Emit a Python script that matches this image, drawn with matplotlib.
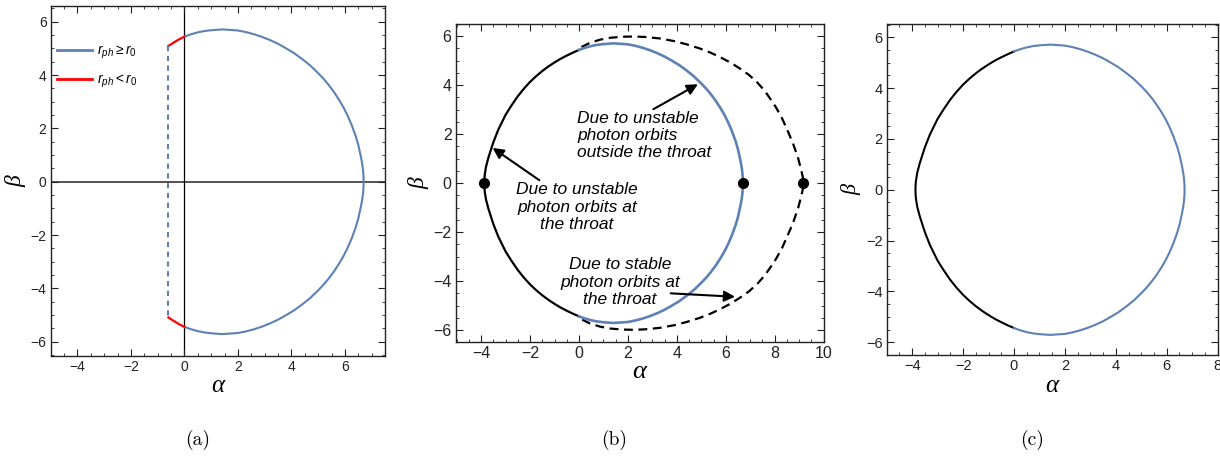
import matplotlib
matplotlib.use('Agg')
import matplotlib.pyplot as plt
from matplotlib.ticker import MultipleLocator
from matplotlib.lines import Line2D

plt.rcParams['font.family'] = ['Liberation Sans', 'DejaVu Sans']
plt.rcParams['mathtext.fontset'] = 'custom'
plt.rcParams['mathtext.it'] = 'Liberation Sans:italic'
plt.rcParams['mathtext.rm'] = 'Liberation Sans'
plt.rcParams['axes.unicode_minus'] = True

# ---------------- data (upper halves; shadows are symmetric in beta) ----------------
# shadow from unstable photon orbits outside the throat (blue)
outer_alpha = [0.0, 0.25, 0.5, 0.75, 1.0, 1.42, 2.0, 2.3, 2.6, 2.9, 3.2, 3.5, 3.8, 4.1, 4.4,
               4.7, 5.0, 5.2, 5.4, 5.6, 5.8, 5.95, 6.1, 6.25, 6.4, 6.5, 6.6, 6.65, 6.68,
               6.695, 6.70]
outer_beta = [5.44, 5.53, 5.60, 5.65, 5.68, 5.71, 5.67, 5.61, 5.53, 5.43, 5.31, 5.17, 5.00,
              4.82, 4.60, 4.36, 4.07, 3.86, 3.62, 3.35, 3.04, 2.78, 2.48, 2.13, 1.72, 1.38,
              0.92, 0.65, 0.41, 0.20, 0.0]

# shadow from unstable photon orbits at the throat (black solid)
throat_alpha = [0.0, -0.25, -0.5, -0.75, -1.0, -1.25, -1.5, -1.75, -2.0, -2.25, -2.5, -2.78,
                -3.0, -3.3, -3.5, -3.7, -3.8, -3.85, -3.865, -3.87]
throat_beta = [5.44, 5.33, 5.21, 5.08, 4.93, 4.765, 4.58, 4.37, 4.135, 3.86, 3.55, 3.14,
               2.79, 2.18, 1.67, 1.05, 0.67, 0.36, 0.18, 0.0]

# shadow from stable photon orbits at the throat (black dashed)
stable_alpha = [0.1, 0.45, 0.86, 1.3, 1.8, 2.25, 2.7, 3.3, 3.9, 4.4, 4.94, 5.4, 5.8, 6.2,
                6.58, 6.95, 7.3, 7.6, 7.81, 8.05, 8.3, 8.55, 8.75, 8.96, 9.08, 9.15, 9.17]
stable_beta = [5.56, 5.73, 5.86, 5.94, 5.98, 5.99, 5.97, 5.91, 5.80, 5.67, 5.50, 5.32, 5.13, 4.92,
               4.68, 4.42, 4.10, 3.76, 3.46, 3.10, 2.65, 2.09, 1.62, 1.01, 0.55, 0.25, 0.0]

# panel (a): r_ph < r0 piece (red) and dashed closure
red_alpha = [-0.6, -0.4, -0.2, 0.0]
red_beta = [5.09, 5.22, 5.34, 5.44]
closure_alpha = [-0.6, -0.6]
closure_beta = [5.09, -5.09]

# panel (b): marked points on the alpha axis
dots_alpha = [-3.87, 6.70, 9.17]
dots_beta = [0.0, 0.0, 0.0]

# panel (b): annotations (text, text position, arrow tail, arrow head)
notes = ["Due to unstable\nphoton orbits\noutside the throat",
         "Due to unstable\nphoton orbits at\nthe throat",
         "Due to stable\nphoton orbits at\nthe throat"]
note_xy = [(-0.08, 1.95), (-0.08, -0.99), (1.68, -4.05)]
note_ha = ['left', 'center', 'center']
arrow_tail = [(3.04, 3.02), (-1.62, 0.12), (3.75, -4.50)]
arrow_head = [(4.86, 4.04), (-3.53, 1.44), (6.38, -4.64)]

legend_labels = [r'$r_{ph}\geq r_0$', r'$r_{ph}< r_0$']
captions = ['(a)', '(b)', '(c)']

BLUE = '#5E81B5'
RED = '#FF0000'


def full(a, b):
    """Close an upper-half curve with its mirror image below the alpha axis."""
    fa = list(a) + list(a[::-1])[1:]
    fb = list(b) + [-v for v in b[::-1]][1:]
    return fa, fb


def mirror(a, b):
    return list(a), [-v for v in b]


def style(ax, xlim, ylim, fs):
    ax.set_xlim(*xlim)
    ax.set_ylim(*ylim)
    ax.xaxis.set_major_locator(MultipleLocator(2))
    ax.yaxis.set_major_locator(MultipleLocator(2))
    ax.xaxis.set_minor_locator(MultipleLocator(0.5))
    ax.yaxis.set_minor_locator(MultipleLocator(0.5))
    ax.tick_params(which='both', direction='in', top=True, right=True, colors='#222222')
    ax.tick_params(which='major', length=5, width=0.8, labelsize=fs, pad=3)
    ax.tick_params(which='minor', length=2.5, width=0.6)
    for s in ax.spines.values():
        s.set_color('#222222')
        s.set_linewidth(1.0)


fig = plt.figure(figsize=(12.2, 4.58), dpi=100)

# ---------------- panel (a) ----------------
axa = fig.add_axes([0.0416, 0.2234, 0.2740, 0.7642])
style(axa, (-5, 7.5), (-6.52, 6.6), 10)
axa.axhline(0, color='#444444', lw=1.3, zorder=1)
axa.axvline(0, color='black', lw=0.9, zorder=1)
oa, ob = full(outer_alpha, outer_beta)
axa.plot(oa, ob, color=BLUE, lw=1.5, zorder=3)
axa.plot(red_alpha, red_beta, color=RED, lw=1.6, zorder=3)
ra, rb = mirror(red_alpha, red_beta)
axa.plot(ra, rb, color=RED, lw=1.6, zorder=3)
axa.plot(closure_alpha, closure_beta, color=BLUE, lw=1.5, dashes=(2.5, 2.2), zorder=3)
handles = [Line2D([], [], color=BLUE, lw=2), Line2D([], [], color=RED, lw=2)]
axa.legend(handles, legend_labels, loc='upper left', bbox_to_anchor=(-0.01, 0.92),
           frameon=False, fontsize=10, handlelength=2.5, handletextpad=0.4,
           labelspacing=0.85, borderaxespad=0.3)
axa.set_xlabel('α', family='Liberation Serif', style='italic', fontsize=18, labelpad=1)
axa.set_ylabel('β', family='Liberation Serif', style='italic', fontsize=17, labelpad=3)

# ---------------- panel (b) ----------------
axb = fig.add_axes([0.3735, 0.2526, 0.3016, 0.6950])
style(axb, (-5.04, 10.0), (-6.5, 6.5), 11.5)
ta, tb = full(throat_alpha, throat_beta)
axb.plot(ta, tb, color='black', lw=1.6, zorder=3)
axb.plot(oa, ob, color=BLUE, lw=1.9, zorder=4)
sa, sb = full(stable_alpha, stable_beta)
axb.plot(sa, sb, color='black', lw=1.6, dashes=(4, 2.5), zorder=3)
axb.plot(dots_alpha, dots_beta, 'o', color='black', ms=7, zorder=5)
for txt, xy, ha in zip(notes, note_xy, note_ha):
    axb.text(xy[0], xy[1], txt, ha=ha, va='center', multialignment=ha,
             fontsize=12.5, style='italic', linespacing=1.2, zorder=6)
for t, h in zip(arrow_tail, arrow_head):
    axb.annotate('', xy=h, xytext=t,
                 arrowprops=dict(arrowstyle='-|>', color='black', lw=1.5,
                                 mutation_scale=16, shrinkA=0, shrinkB=0), zorder=6)
axb.set_xlabel('α', family='Liberation Serif', style='italic', fontsize=19, labelpad=0)
axb.set_ylabel('β', family='Liberation Serif', style='italic', fontsize=17, labelpad=3)

# ---------------- panel (c) ----------------
axc = fig.add_axes([0.7268, 0.2249, 0.2713, 0.7227])
style(axc, (-5, 8), (-6.5, 6.52), 10.5)
axc.plot(ta, tb, color='black', lw=1.5, zorder=3)
axc.plot(oa, ob, color=BLUE, lw=1.5, zorder=3)
axc.set_xlabel('α', family='Liberation Serif', style='italic', fontsize=18, labelpad=1)
axc.set_ylabel('β', family='Liberation Serif', style='italic', fontsize=16, labelpad=3)

# ---------------- sub-captions ----------------
for cap, x in zip(captions, [0.162, 0.503, 0.846]):
    fig.text(x, 0.04, cap, family=['cmr10', 'DejaVu Serif'], fontsize=14, ha='center', va='center')

fig.savefig('out.png', dpi=100)
